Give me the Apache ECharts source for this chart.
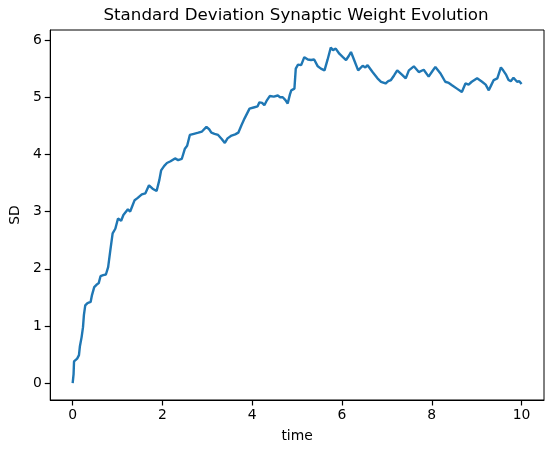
<!DOCTYPE html>
<html>
<head>
    <meta charset="utf-8">
    <title>Standard Deviation Synaptic Weight Evolution</title>
    <script src="https://cdn.jsdelivr.net/npm/echarts@6/dist/echarts.min.js"></script>
    <style>
        html, body { margin: 0; padding: 0; background: #fff; }
        #main { width: 554px; height: 453px; }
    </style>
</head>
<body>
    <div id="main"></div>
    <script>
        // values
        var times = [0.00, 0.02, 0.03, 0.06, 0.10, 0.14, 0.16, 0.20, 0.23, 0.25, 0.28, 0.33, 0.40, 0.43, 0.48, 0.53,
            0.58, 0.62, 0.68, 0.74, 0.79, 0.84, 0.89, 0.95, 1.01, 1.08, 1.13, 1.23, 1.28, 1.32, 1.38, 1.45,
            1.54, 1.62, 1.70, 1.78, 1.87, 1.93, 1.97, 2.04, 2.10, 2.18, 2.28, 2.35, 2.43, 2.50, 2.55, 2.61,
            2.70, 2.80, 2.88, 2.98, 3.04, 3.09, 3.16, 3.24, 3.32, 3.39, 3.45, 3.54, 3.62, 3.69, 3.76, 3.83,
            3.94, 4.03, 4.12, 4.16, 4.22, 4.27, 4.33, 4.39, 4.48, 4.57, 4.62, 4.68, 4.74, 4.79, 4.84, 4.87,
            4.94, 4.97, 5.02, 5.09, 5.16, 5.24, 5.31, 5.38, 5.46, 5.53, 5.61, 5.68, 5.75, 5.80, 5.86, 5.94,
            6.02, 6.09, 6.15, 6.20, 6.27, 6.36, 6.46, 6.52, 6.57, 6.68, 6.79, 6.87, 6.97, 7.03, 7.09, 7.16,
            7.23, 7.34, 7.42, 7.49, 7.60, 7.71, 7.82, 7.93, 8.00, 8.08, 8.19, 8.30, 8.38, 8.45, 8.56, 8.67,
            8.75, 8.82, 8.89, 9.01, 9.12, 9.20, 9.27, 9.33, 9.38, 9.46, 9.54, 9.59, 9.65, 9.71, 9.76, 9.82,
            9.90, 9.95, 10.00];
        var sd = [0.00, 0.16, 0.38, 0.41, 0.43, 0.49, 0.64, 0.81, 0.98, 1.19, 1.36, 1.40, 1.42, 1.54, 1.68, 1.72,
            1.75, 1.87, 1.89, 1.90, 2.03, 2.33, 2.62, 2.70, 2.88, 2.84, 2.94, 3.04, 3.00, 3.08, 3.20, 3.24,
            3.30, 3.32, 3.46, 3.40, 3.36, 3.55, 3.72, 3.80, 3.85, 3.88, 3.93, 3.90, 3.92, 4.10, 4.15, 4.34,
            4.36, 4.38, 4.40, 4.48, 4.44, 4.38, 4.36, 4.34, 4.27, 4.20, 4.28, 4.33, 4.35, 4.38, 4.51, 4.63,
            4.80, 4.82, 4.84, 4.91, 4.90, 4.86, 4.95, 5.02, 5.01, 5.03, 5.00, 5.00, 4.95, 4.89, 5.05, 5.12,
            5.15, 5.50, 5.57, 5.56, 5.70, 5.66, 5.65, 5.66, 5.54, 5.50, 5.47, 5.66, 5.87, 5.82, 5.85, 5.76,
            5.70, 5.65, 5.72, 5.79, 5.65, 5.47, 5.55, 5.52, 5.56, 5.44, 5.33, 5.27, 5.24, 5.28, 5.30, 5.38,
            5.47, 5.39, 5.33, 5.47, 5.54, 5.44, 5.48, 5.36, 5.44, 5.53, 5.42, 5.27, 5.25, 5.21, 5.15, 5.09,
            5.24, 5.22, 5.27, 5.33, 5.27, 5.22, 5.12, 5.22, 5.30, 5.33, 5.52, 5.47, 5.40, 5.30, 5.28, 5.34,
            5.27, 5.28, 5.23];
        var xTicks = [0, 2, 4, 6, 8, 10];
        var yTicks = [0, 1, 2, 3, 4, 5, 6];

        var points = [];
        for (var i = 0; i < times.length; i++) {
            points.push([times[i], sd[i]]);
        }

        var font = 'DejaVu Sans';
        var myChart = echarts.init(document.getElementById('main'), null, { renderer: 'canvas' });
        var option = {
            backgroundColor: '#fff',
            animation: false,
            title: {
                text: 'Standard Deviation Synaptic Weight Evolution',
                left: 296,
                top: 7,
                padding: 0,
                textAlign: 'center',
                textStyle: { fontFamily: font, fontSize: 16.7, fontWeight: 'normal', color: '#000' }
            },
            grid: {
                left: 48, right: 10, top: 30, bottom: 53,
                show: true, borderColor: '#000', borderWidth: 1, backgroundColor: 'transparent'
            },
            xAxis: {
                type: 'value',
                min: -0.5,
                max: 10.5,
                name: 'time',
                nameLocation: 'middle',
                nameGap: 29,
                nameTextStyle: { fontFamily: font, fontSize: 13.9, color: '#000' },
                axisLine: { show: true, onZero: false, lineStyle: { color: '#000', width: 1 } },
                axisTick: { show: true, inside: false, length: 5.5, customValues: xTicks, lineStyle: { color: '#000', width: 1.2 } },
                axisLabel: { customValues: xTicks, margin: 8, fontFamily: font, fontSize: 13.9, color: '#000' },
                splitLine: { show: false }
            },
            yAxis: {
                type: 'value',
                min: -0.294,
                max: 6.175,
                name: 'SD',
                nameLocation: 'middle',
                nameGap: 25,
                nameTextStyle: { fontFamily: font, fontSize: 13.9, color: '#000' },
                axisLine: { show: true, onZero: false, lineStyle: { color: '#000', width: 1 } },
                axisTick: { show: true, inside: false, length: 5.5, customValues: yTicks, lineStyle: { color: '#000', width: 1.2 } },
                axisLabel: { customValues: yTicks, margin: 8.5, fontFamily: font, fontSize: 13.9, color: '#000' },
                splitLine: { show: false }
            },
            series: [{
                name: 'SD',
                type: 'line',
                data: points,
                showSymbol: false,
                smooth: false,
                lineStyle: { color: '#1f77b4', width: 2.4 }
            }]
        };
        myChart.setOption(option);
    </script>
</body>
</html>
